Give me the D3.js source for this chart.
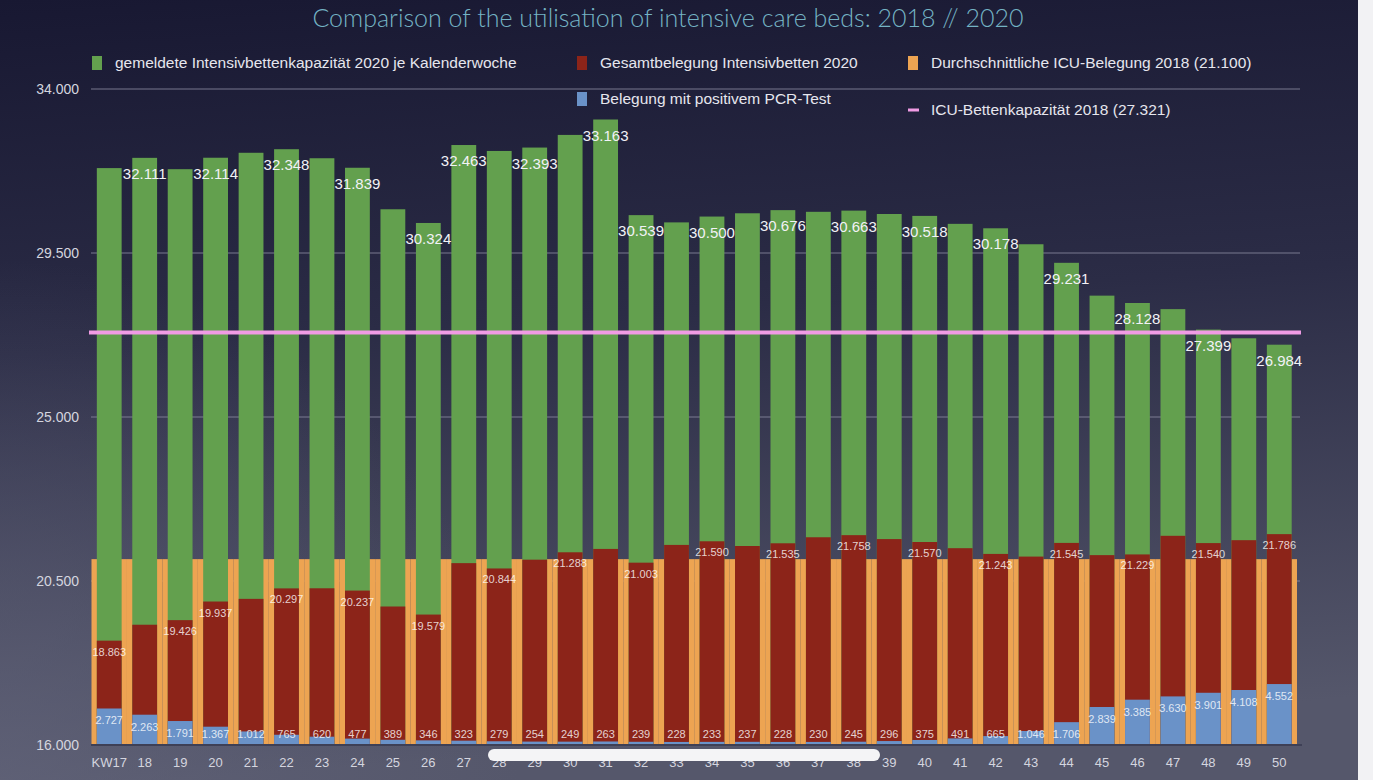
<!DOCTYPE html>
<html>
<head>
<meta charset="utf-8">
<script src="https://cdn.jsdelivr.net/npm/d3@7"></script>
<style>
  html, body { margin: 0; padding: 0; background: #f2f2f4; }
  svg { display: block; }
</style>
</head>
<body>
<svg id="chart" width="1373" height="780"></svg>
<script>
// Calendar weeks shown on the x axis
const weeks = ["KW17","18","19","20","21","22","23","24","25","26","27","28","29","30","31","32","33",
               "34","35","36","37","38","39","40","41","42","43","44","45","46","47","48","49","50"];

// Reported ICU bed capacity 2020 per calendar week
const capacity2020 = [31830,32111,31800,32114,32250,32348,32100,31839,30700,30324,32463,32300,32393,32740,33163,30539,30340,
                      30500,30590,30676,30630,30663,30570,30518,30300,30178,29740,29231,28330,28128,27960,27399,27160,26984];

// Total ICU occupancy 2020
const occupancy2020 = [18863,19300,19426,19937,20010,20297,20300,20237,19800,19579,20990,20844,21085,21288,21380,21003,21490,
                       21590,21460,21535,21700,21758,21650,21570,21400,21243,21170,21545,21210,21229,21740,21540,21620,21786];

// Occupancy with positive PCR test
const pcrPositive = [2727,2263,1791,1367,1012,765,620,477,389,346,323,279,254,249,263,239,228,
                     233,237,228,230,245,296,375,491,665,1046,1706,2839,3385,3630,3901,4108,4552];

// Weeks whose bars carry a value label
const capacityLabelWeeks = ["18","20","22","24","26","27","29","31","32","34","36","38","40","42","44","46","48","50"];
const occupancyLabelWeeks = ["KW17","19","20","22","24","26","28","30","32","34","36","38","40","42","44","46","48","50"];

// 2018 reference values
const avgIcuOccupancy2018 = 21100;
const icuCapacity2018 = 27321;

// Axis
const yTicks = [16000, 20500, 25000, 29500, 34000];
const pcrAxisMax = 49000;

const legendItems = [
  { label: "gemeldete Intensivbettenkapazität 2020 je Kalenderwoche", color: "#63a04e", kind: "box", x: 92,  y: 63 },
  { label: "Gesamtbelegung Intensivbetten 2020",                    color: "#8c2419", kind: "box", x: 577, y: 63 },
  { label: "Durchschnittliche ICU-Belegung 2018 (21.100)",          color: "#eda452", kind: "box", x: 908, y: 63 },
  { label: "Belegung mit positivem PCR-Test",                       color: "#6a92c8", kind: "box", x: 577, y: 99 },
  { label: "ICU-Bettenkapazität 2018 (27.321)",                     color: "#f09be4", kind: "line", x: 908, y: 110 }
];

const title = "Comparison of the utilisation of intensive care beds: 2018 // 2020";

const de = d3.formatLocale({ decimal: ",", thousands: ".", grouping: [3], currency: ["", " €"] });
const fmt = de.format(",d");

const W = 1373, H = 780;
const svg = d3.select("#chart");
const defs = svg.append("defs");

const bg = defs.append("linearGradient").attr("id", "bg").attr("x1", 0).attr("y1", 0).attr("x2", 0.12).attr("y2", 1);
bg.append("stop").attr("offset", "0%").attr("stop-color", "#181832");
bg.append("stop").attr("offset", "45%").attr("stop-color", "#2b2c46");
bg.append("stop").attr("offset", "100%").attr("stop-color", "#55576b");

const glow = defs.append("radialGradient").attr("id", "glow")
  .attr("gradientUnits", "userSpaceOnUse").attr("cx", 0).attr("cy", 780).attr("r", 520);
glow.append("stop").attr("offset", "0%").attr("stop-color", "#62647a").attr("stop-opacity", 0.7);
glow.append("stop").attr("offset", "100%").attr("stop-color", "#62647a").attr("stop-opacity", 0);

svg.append("rect").attr("x", 0).attr("y", 0).attr("width", 1358).attr("height", H).attr("fill", "url(#bg)");
svg.append("rect").attr("x", 0).attr("y", 0).attr("width", 1358).attr("height", H).attr("fill", "url(#glow)");

const font = "'Liberation Sans', Arial, Helvetica, sans-serif";

// Scales
const x = d3.scaleBand().domain(weeks).range([91.5, 1297]).paddingInner(0.3).paddingOuter(0.15);
const y = d3.scaleLinear().domain([16000, 34000]).range([745, 89]);
const yPcr = d3.scaleLinear().domain([0, pcrAxisMax]).range([745, 89]);
const gap = x.step() - x.bandwidth();

// Gridlines
svg.append("g").selectAll("line").data(yTicks.slice(1)).join("line")
  .attr("x1", 91).attr("x2", 1300)
  .attr("y1", d => y(d)).attr("y2", d => y(d))
  .attr("stroke", "#8a8ca2").attr("stroke-opacity", 0.55).attr("stroke-width", 1.5);

// Y axis labels
const yAxis = d3.axisLeft(y).tickValues(yTicks).tickFormat(fmt).tickSize(0).tickPadding(0);
const yg = svg.append("g").attr("transform", "translate(79,0)").call(yAxis);
yg.select(".domain").remove();
yg.selectAll("text").attr("fill", "#d4d5df").attr("font-family", font).attr("font-size", 14);

// 2018 average occupancy band, one segment per week
svg.append("g").selectAll("rect").data(weeks).join("rect")
  .attr("x", d => x(d) - gap / 2)
  .attr("width", x.step())
  .attr("y", y(avgIcuOccupancy2018))
  .attr("height", y(16000) - y(avgIcuOccupancy2018))
  .attr("fill", "#eda452");

// Capacity bars
svg.append("g").selectAll("rect").data(weeks).join("rect")
  .attr("x", d => x(d)).attr("width", x.bandwidth())
  .attr("y", (d, i) => y(capacity2020[i]))
  .attr("height", (d, i) => y(16000) - y(capacity2020[i]))
  .attr("fill", "#63a04e");

// Total occupancy bars
svg.append("g").selectAll("rect").data(weeks).join("rect")
  .attr("x", d => x(d)).attr("width", x.bandwidth())
  .attr("y", (d, i) => y(occupancy2020[i]))
  .attr("height", (d, i) => y(16000) - y(occupancy2020[i]))
  .attr("fill", "#8c2419");

// PCR-positive bars (own scale from zero)
svg.append("g").selectAll("rect").data(weeks).join("rect")
  .attr("x", d => x(d)).attr("width", x.bandwidth())
  .attr("y", (d, i) => yPcr(pcrPositive[i]))
  .attr("height", (d, i) => yPcr(0) - yPcr(pcrPositive[i]))
  .attr("fill", "#6a92c8");

// 2018 capacity reference line
svg.append("line")
  .attr("x1", 89).attr("x2", 1301)
  .attr("y1", y(icuCapacity2018)).attr("y2", y(icuCapacity2018))
  .attr("stroke", "#f09be4").attr("stroke-width", 4);

// Baseline
svg.append("line").attr("x1", 91).attr("x2", 1302).attr("y1", 745).attr("y2", 745)
  .attr("stroke", "#3e4056").attr("stroke-width", 2);

// Value labels
const cx = d => x(d) + x.bandwidth() / 2;

svg.append("g").selectAll("text").data(capacityLabelWeeks).join("text")
  .attr("x", d => cx(d))
  .attr("y", d => y(capacity2020[weeks.indexOf(d)]) + 21)
  .attr("text-anchor", "middle")
  .attr("font-family", font).attr("font-size", 15)
  .attr("fill", "#f2f2f6")
  .text(d => fmt(capacity2020[weeks.indexOf(d)]));

svg.append("g").selectAll("text").data(occupancyLabelWeeks).join("text")
  .attr("x", d => cx(d))
  .attr("y", d => y(occupancy2020[weeks.indexOf(d)]) + 15)
  .attr("text-anchor", "middle")
  .attr("font-family", font).attr("font-size", 11)
  .attr("fill", "#ffffff").attr("fill-opacity", 0.8)
  .text(d => fmt(occupancy2020[weeks.indexOf(d)]));

svg.append("g").selectAll("text").data(weeks).join("text")
  .attr("x", d => cx(d))
  .attr("y", (d, i) => Math.min(yPcr(pcrPositive[i]) + 16, 738))
  .attr("text-anchor", "middle")
  .attr("font-family", font).attr("font-size", 11)
  .attr("fill", "#ffffff").attr("fill-opacity", 0.8)
  .text((d, i) => fmt(pcrPositive[i]));

// X axis labels
const xAxis = d3.axisBottom(x).tickSize(0).tickPadding(0);
const xg = svg.append("g").attr("transform", "translate(0,767)").call(xAxis);
xg.select(".domain").remove();
xg.selectAll("text").attr("fill", "#d4d5df").attr("font-family", font).attr("font-size", 13).attr("dy", 0);

// Horizontal scroll indicator
svg.append("rect").attr("x", 488).attr("y", 749).attr("width", 392).attr("height", 12).attr("rx", 6)
  .attr("fill", "#f4f4f6");

// Legend
const lg = svg.append("g").selectAll("g").data(legendItems).join("g")
  .attr("transform", d => `translate(${d.x},${d.y})`);
lg.filter(d => d.kind === "box").append("rect")
  .attr("x", 0).attr("y", -7).attr("width", 10).attr("height", 14).attr("fill", d => d.color);
lg.filter(d => d.kind === "line").append("rect")
  .attr("x", 0).attr("y", -1.5).attr("width", 11).attr("height", 3).attr("fill", d => d.color);
lg.append("text").attr("x", 23).attr("y", 5)
  .attr("font-family", font).attr("font-size", 15.5).attr("fill", "#e6e6ee")
  .text(d => d.label);

// Title
svg.append("text").attr("x", 668).attr("y", 27).attr("text-anchor", "middle")
  .attr("font-family", "Lato, 'Open Sans', sans-serif").attr("font-weight", 300).attr("font-size", 25)
  .attr("fill", "#74b3c4")
  .text(title);

// Right border strip
svg.append("rect").attr("x", 1358).attr("y", 0).attr("width", 15).attr("height", H).attr("fill", "#f2f2f4");
</script>
</body>
</html>
